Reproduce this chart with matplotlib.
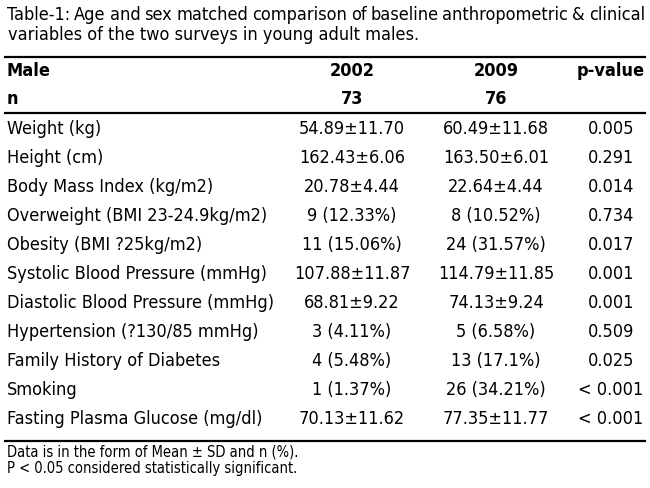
import matplotlib
matplotlib.use("Agg")
import matplotlib.pyplot as plt
from matplotlib.lines import Line2D

# table content
title_lines = ["Table-1: Age and sex matched comparison of baseline anthropometric & clinical",
               "variables of the two surveys in young adult males."]
header = ["Male", "2002", "2009", "p-value"]
n_row = ["n", "73", "76", ""]
variables = ["Weight (kg)", "Height (cm)", "Body Mass Index (kg/m2)",
             "Overweight (BMI 23-24.9kg/m2)", "Obesity (BMI ?25kg/m2)",
             "Systolic Blood Pressure (mmHg)", "Diastolic Blood Pressure (mmHg)",
             "Hypertension (?130/85 mmHg)", "Family History of Diabetes",
             "Smoking", "Fasting Plasma Glucose (mg/dl)"]
values_2002 = ["54.89\u00b111.70", "162.43\u00b16.06", "20.78\u00b14.44", "9 (12.33%)",
               "11 (15.06%)", "107.88\u00b111.87", "68.81\u00b19.22", "3 (4.11%)",
               "4 (5.48%)", "1 (1.37%)", "70.13\u00b111.62"]
values_2009 = ["60.49\u00b111.68", "163.50\u00b16.01", "22.64\u00b14.44", "8 (10.52%)",
               "24 (31.57%)", "114.79\u00b111.85", "74.13\u00b19.24", "5 (6.58%)",
               "13 (17.1%)", "26 (34.21%)", "77.35\u00b111.77"]
p_values = ["0.005", "0.291", "0.014", "0.734", "0.017", "0.001", "0.001",
            "0.509", "0.025", "< 0.001", "< 0.001"]
footnotes = ["Data is in the form of Mean \u00b1 SD and n (%).",
             "P < 0.05 considered statistically significant."]

plt.rcParams['font.family'] = ["DejaVu Sans"]
plt.rcParams['font.stretch'] = "condensed"

W, H = 650, 488
fig = plt.figure(figsize=(W / 100, H / 100), dpi=100)
fig.patch.set_facecolor("white")


def fx(px):
    return px / W


def fy(py):
    return 1 - py / H


renderer = fig.canvas.get_renderer()


def word_widths(words, size):
    out = []
    for w in words:
        t = fig.text(0, 0, w, fontsize=size)
        out.append(t.get_window_extent(renderer).width)
        t.remove()
    return out


def justified(text, y, x0, x1, size):
    # spread words across the full width, like the printed caption
    words = text.split(" ")
    widths = word_widths(words, size)
    while (x1 - x0 - sum(widths)) / (len(words) - 1) < 3:
        size -= 0.25
        widths = word_widths(words, size)
    gap = (x1 - x0 - sum(widths)) / (len(words) - 1)
    x = x0
    for w, wd in zip(words, widths):
        fig.text(fx(x), fy(y), w, fontsize=size, va="center", ha="left")
        x += wd + gap
    return size


tsize = justified(title_lines[0], 15, 7, 645, 13)
fig.text(fx(8), fy(35), title_lines[1], fontsize=tsize, va="center", ha="left")

col_x = [7, 352, 496, 611]


def hline(y, lw):
    fig.add_artist(Line2D([fx(5), fx(645)], [fy(y), fy(y)], color="black", lw=lw))


def row(cells, y, bold=False):
    wt = "bold" if bold else "normal"
    fig.text(fx(col_x[0]), fy(y), cells[0], fontsize=13, va="center", ha="left", weight=wt)
    for x, c in zip(col_x[1:], cells[1:]):
        fig.text(fx(x), fy(y), c, fontsize=13, va="center", ha="center", weight=wt)


hline(57, 1.6)
row(header, 71, bold=True)
row(n_row, 99, bold=True)
hline(113, 1.6)

row_step = 29
y = 129
for cells in zip(variables, values_2002, values_2009, p_values):
    row(cells, y)
    y += row_step

hline(441, 1.6)
fig.text(fx(7), fy(452), footnotes[0], fontsize=10.5, va="center", ha="left")
fig.text(fx(7), fy(468), footnotes[1], fontsize=10.5, va="center", ha="left")

fig.savefig("out.png", dpi=100)
